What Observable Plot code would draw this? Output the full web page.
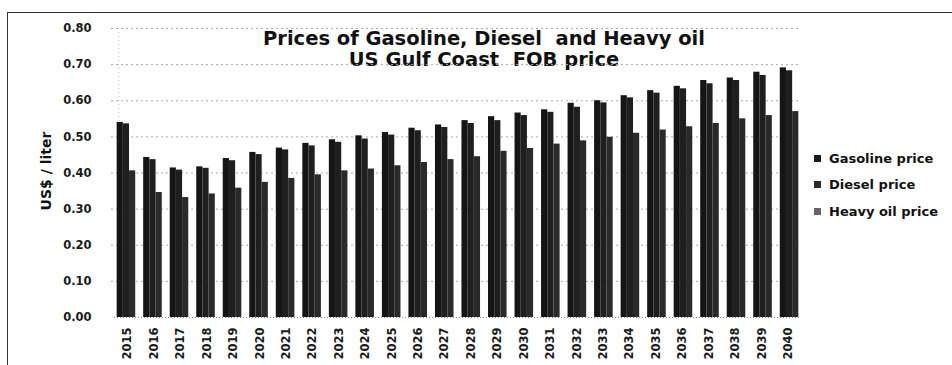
<!DOCTYPE html>
<html>
<head>
<meta charset="utf-8">
<script src="https://cdn.jsdelivr.net/npm/d3@7"></script>
<script src="https://cdn.jsdelivr.net/npm/@observablehq/plot@0.6"></script>
<style>
  html, body { margin: 0; padding: 0; background: #fff; }
  #chart { position: relative; width: 952px; height: 365px; overflow: hidden; background: #fff; font-family: "DejaVu Sans", sans-serif; color: #1a1a1a; }
  #chart svg { position: absolute; left: 0; top: 0; }
  #frame { position: absolute; left: 7px; top: 12px; width: 960px; height: 400px; border-top: 1.5px solid #333; border-left: 1.5px solid #333; }
  #title { position: absolute; left: 184px; width: 600px; top: 28px; text-align: center; font-weight: bold; font-size: 19.5px; line-height: 21px; color: #111; }
  #ylabel { position: absolute; left: 46px; top: 171px; transform: translate(-50%, -50%) rotate(-90deg); font-weight: bold; font-size: 14px; white-space: nowrap; color: #111; }
  #legend { position: absolute; left: 814px; top: 145px; font-weight: bold; font-size: 13px; color: #111; }
  #legend .row { display: flex; align-items: center; height: 26.5px; }
  #legend .sw { width: 7px; height: 7px; margin-right: 8px; }
</style>
</head>
<body>
<div id="chart">
  <div id="frame"></div>
  <div id="title">Prices of Gasoline, Diesel&nbsp; and Heavy oil<br>US Gulf Coast&nbsp; FOB price</div>
  <div id="ylabel">US$ / liter</div>
  <div id="legend"></div>
</div>
<script>
const years = ["2015","2016","2017","2018","2019","2020","2021","2022","2023","2024","2025","2026","2027","2028","2029","2030","2031","2032","2033","2034","2035","2036","2037","2038","2039","2040"];
const seriesNames = ["Gasoline price", "Diesel price", "Heavy oil price"];
const gasoline = [0.540,0.443,0.414,0.417,0.440,0.457,0.469,0.482,0.492,0.503,0.512,0.524,0.533,0.545,0.556,0.566,0.575,0.593,0.600,0.614,0.628,0.640,0.656,0.663,0.679,0.691];
const diesel   = [0.536,0.437,0.408,0.413,0.434,0.451,0.464,0.475,0.485,0.494,0.505,0.517,0.526,0.537,0.545,0.559,0.568,0.582,0.594,0.608,0.621,0.633,0.647,0.656,0.670,0.683];
const heavyOil = [0.406,0.346,0.332,0.342,0.358,0.374,0.385,0.395,0.406,0.411,0.420,0.429,0.437,0.445,0.460,0.468,0.480,0.489,0.499,0.510,0.519,0.528,0.537,0.550,0.559,0.570];
const yTicks = [0, 0.1, 0.2, 0.3, 0.4, 0.5, 0.6, 0.7, 0.8];
const seriesColors = ["#151515", "#1f1f1f", "#2a2a2a"];
const legendColors = ["#1a1a1a", "#2a2a2a", "#666"];

const rows = years.flatMap((yr, i) => [
  {year: yr, series: seriesNames[0], value: gasoline[i]},
  {year: yr, series: seriesNames[1], value: diesel[i]},
  {year: yr, series: seriesNames[2], value: heavyOil[i]}
]);

const dims = {width: 952, height: 365, marginLeft: 114, marginRight: 151, marginTop: 28, marginBottom: 48};

const back = Plot.plot({
  ...dims,
  style: {fontFamily: "'DejaVu Sans', sans-serif", fontSize: "11.5px", fontWeight: "bold", color: "#1a1a1a", background: "transparent"},
  x: {domain: years, paddingInner: 0.3, paddingOuter: 0.1, round: false, tickRotate: -90, tickSize: 0, tickPadding: 10, label: null},
  y: {domain: [0, 0.8], ticks: yTicks, tickFormat: d => d.toFixed(2), tickSize: 0, tickPadding: 23, label: null},
  marks: [
    Plot.ruleY(yTicks.slice(1), {stroke: "#aaa", strokeDasharray: "2,3", strokeWidth: 1, dx: -3}),
    Plot.ruleY([0], {stroke: "#888", strokeDasharray: "1,2"}),
    Plot.ruleX([years[0]], {stroke: "#bbb", strokeDasharray: "1,3", dx: -9})
  ]
});

const front = Plot.plot({
  ...dims,
  style: {background: "transparent"},
  facet: {data: rows, x: "year"},
  fx: {domain: years, paddingInner: 0.3, paddingOuter: 0.1, round: false, axis: null, label: null},
  x: {domain: seriesNames, padding: 0, round: false, axis: null},
  y: {domain: [0, 0.8], axis: null},
  color: {domain: seriesNames, range: seriesColors},
  marks: [
    Plot.barY(rows, {x: "series", y: "value", fill: "series"})
  ]
});

const chart = document.getElementById("chart");
chart.appendChild(back);
chart.appendChild(front);

const legend = document.getElementById("legend");
seriesNames.forEach((name, i) => {
  const row = document.createElement("div");
  row.className = "row";
  const sw = document.createElement("span");
  sw.className = "sw";
  sw.style.background = legendColors[i];
  const t = document.createElement("span");
  t.textContent = name;
  row.appendChild(sw);
  row.appendChild(t);
  legend.appendChild(row);
});
</script>
</body>
</html>
